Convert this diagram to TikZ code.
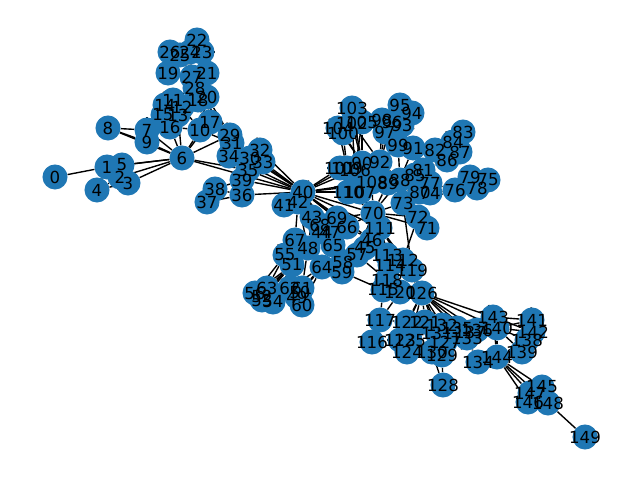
\documentclass[tikz,border=0pt]{standalone}
\usepackage{fontspec}
\setmainfont{DejaVu Sans}
\definecolor{nodeblue}{RGB}{31,119,180}
\pgfdeclarelayer{edgelayer}
\pgfdeclarelayer{labellayer}
\pgfsetlayers{edgelayer,main,labellayer}
\tikzset{
  vtx/.style={circle, fill=nodeblue, draw=none, inner sep=0pt, minimum size=0.25in},
  lbl/.style={inner sep=0pt, text=black, font=\fontsize{12}{14}\selectfont},
  edg/.style={draw=black, line width=1pt}
}
\begin{document}
\begin{tikzpicture}[x=0.01in, y=-0.01in]
\useasboundingbox (0,0) rectangle (640,480);
\foreach \n/\px/\py in {
0/55/177, 1/107/167, 2/120/177, 3/128/183, 4/97/190, 5/122/165, 6/182/158, 7/147/130, 8/108/128, 9/147/142,
10/200/130, 11/173/100, 12/182/107, 13/178/115, 14/165/105, 15/163/115, 16/170/127, 17/210/122, 18/198/100, 19/168/73,
20/207/97, 21/207/73, 22/197/40, 23/202/52, 24/190/52, 25/180/55, 26/170/52, 27/192/77, 28/195/88, 29/230/135,
30/250/158, 31/232/143, 32/260/150, 33/263/162, 34/229/156, 35/248/170, 36/242/195, 37/207/202, 38/215/189, 39/242/180,
40/303/192, 41/284/205, 42/298/202, 43/312/217, 44/322/232, 45/365/248, 46/372/240, 47/330/232, 48/308/248, 49/297/297,
50/300/292, 51/292/265, 52/262/296, 53/262/300, 54/273/302, 55/285/255, 56/255/293, 57/357/255, 58/343/262, 59/342/272,
60/302/305, 61/302/288, 62/290/288, 63/267/288, 64/322/267, 65/333/245, 66/347/227, 67/295/240, 68/320/225, 69/337/218,
70/373/213, 71/427/228, 72/418/217, 73/403/203, 74/430/193, 75/488/180, 76/455/190, 77/430/183, 78/477/188, 79/470/177,
80/420/192, 81/423/170, 82/435/150, 83/463/132, 84/453/142, 85/415/175, 86/447/160, 87/460/152, 88/400/180, 89/388/183,
90/362/163, 91/413/148, 92/380/162, 93/402/125, 94/412/113, 95/400/105, 96/392/122, 97/385/132, 98/382/120, 99/398/145,
100/343/133, 101/340/168, 102/352/123, 103/352/108, 104/338/128, 105/362/122, 106/355/170, 107/360/192, 108/372/182, 109/347/168,
110/348/192, 111/380/228, 112/403/260, 113/387/255, 114/390/265, 115/383/290, 116/372/342, 117/380/320, 118/387/280, 119/412/270,
120/400/292, 121/425/322, 122/407/322, 123/400/340, 124/407/352, 125/410/340, 126/422/293, 127/445/342, 128/443/385, 129/442/355,
130/432/352, 131/437/333, 132/442/325, 133/467/338, 134/478/362, 135/457/328, 136/477/330, 137/470/332, 138/527/340, 139/522/352,
140/497/328, 141/532/320, 142/533/332, 143/493/317, 144/497/357, 145/542/387, 146/528/402, 147/530/393, 148/548/403, 149/585/437}
{
  \node[vtx] (v\n) at (\px,\py) {};
  \begin{pgfonlayer}{labellayer}
    \node[lbl] (t\n) at (\px,\py) {\n};
  \end{pgfonlayer}
}
\begin{pgfonlayer}{edgelayer}
\foreach \a/\b in {
0/1, 1/2, 1/3, 1/4, 1/5, 2/3, 2/4, 2/5, 3/4, 3/5, 6/1, 6/2, 6/3, 6/5,
6/7, 6/8, 6/9, 7/8, 8/9, 7/9, 6/10, 6/16, 6/17, 6/13, 6/29, 6/35, 6/40,
10/17, 10/16, 10/20, 17/18, 17/20, 10/12, 16/13, 11/12, 11/14, 12/13, 13/15, 14/15, 15/16, 11/18, 12/18, 16/12,
19/27, 21/27, 22/24, 23/24, 25/26, 22/23, 24/27, 21/23, 19/26, 19/25, 25/27, 18/27, 20/28, 18/28, 27/28, 21/28, 18/20,
20/29, 28/29, 17/29, 10/31, 29/31, 31/34, 29/34, 30/32, 32/33, 30/33, 30/35, 35/39, 34/30, 31/30,
40/30, 40/32, 40/33, 40/35, 40/39, 40/36, 40/34, 40/31,
36/38, 37/38, 36/39, 38/39, 36/37,
40/41, 40/42, 41/42, 40/43, 42/43,
40/101, 40/110, 40/107, 40/70, 40/89, 40/109, 40/106, 40/108, 40/111, 40/69, 40/66, 40/68, 40/65, 40/46, 40/47,
42/67, 42/48, 43/48, 43/68, 43/69, 68/66, 69/66, 65/66, 44/65, 47/65, 68/47, 44/68,
48/51, 55/51, 67/55, 67/48, 51/63, 51/56, 51/53, 51/54, 51/52, 55/63, 55/56, 56/63, 53/54, 52/53,
64/61, 64/60, 64/62, 64/50, 64/49, 48/64, 61/60, 62/61, 49/60, 48/61, 48/62,
58/59, 57/58, 45/57, 46/45, 46/70, 65/57, 66/46, 64/58,
70/111, 70/73, 70/72, 70/71, 70/89, 70/88, 70/107, 70/108, 70/66, 70/45, 70/46, 70/57, 70/69, 70/110,
111/113, 111/112, 111/114, 111/119, 111/118, 111/115, 111/120, 111/126, 73/119, 72/112,
59/115, 57/118, 57/113, 45/113,
113/112, 113/114, 114/119, 112/119, 118/115, 118/120, 115/120, 120/126, 119/126, 114/118,
126/121, 126/122, 126/127, 126/131, 126/132, 126/133, 126/135, 126/136, 126/137, 126/140, 126/143, 126/125, 126/123,
117/115, 117/120, 116/117, 117/122, 121/122, 123/124, 122/125, 123/125, 124/130, 125/130, 127/129, 129/130, 131/132, 127/131,
128/129, 128/130, 132/135, 135/133, 133/137, 136/137, 136/140,
143/140, 141/140, 142/140, 141/143, 142/143, 138/140, 139/140, 144/140, 144/134, 134/133, 144/143, 138/142, 138/139, 141/142, 144/139, 144/138,
144/145, 144/146, 144/147, 144/148, 145/147, 146/148, 148/149,
73/74, 73/80, 73/77, 73/81, 73/85, 73/88, 73/72, 71/72, 71/73,
74/76, 76/78, 76/79, 78/75, 79/75, 77/80, 74/80, 77/76, 79/78,
81/82, 82/84, 83/84, 84/87, 86/87, 82/86, 85/81, 83/87, 81/86,
88/92, 88/99, 89/92, 89/90, 92/99, 91/99, 90/92, 88/91, 88/89,
90/102, 90/104, 90/100, 106/102, 109/100, 92/98, 92/97, 92/96, 99/93, 90/105, 106/105, 109/104, 92/102, 99/97, 90/103,
95/94, 95/93, 93/96, 96/98, 97/98, 103/102, 104/100, 105/102, 94/93, 97/93,
89/108, 107/108, 107/110, 101/109, 106/90, 109/106, 101/110}
{
  \draw[edg] (v\a) -- (v\b);
}
\end{pgfonlayer}
\end{tikzpicture}
\end{document}
